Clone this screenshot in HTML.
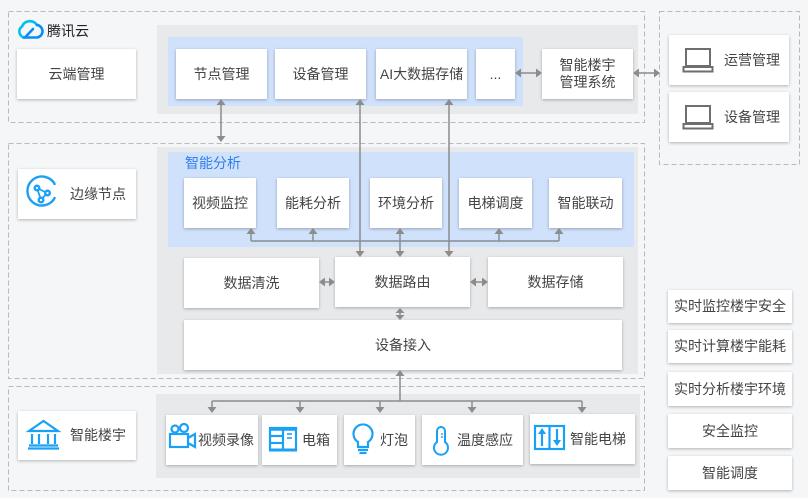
<!DOCTYPE html>
<html><head><meta charset="utf-8"><style>
*{margin:0;padding:0;box-sizing:border-box}
body{width:808px;height:498px;background:#f5f6f8;position:relative;overflow:hidden;font-family:"Liberation Sans","Noto Sans CJK SC",sans-serif;color:#444}
.p{position:absolute}
.g{position:absolute;background:#e8e9eb}
.bl{position:absolute;background:#cfe1fb}
.b{position:absolute;background:#fff;box-shadow:0 1px 3px rgba(0,0,0,.28);display:flex;align-items:center;justify-content:center;font-size:14px;color:#444;line-height:17px;text-align:center}
.t{position:absolute;font-size:14px;color:#444;white-space:nowrap;line-height:20px}
svg{position:absolute;left:0;top:0}
</style></head><body>
<svg width="808" height="498" style="z-index:0">
<g fill="none" stroke="#b9b9b9" stroke-width="1" stroke-dasharray="5,3">
<rect x="8.5" y="11.5" width="636" height="111"/>
<rect x="659.5" y="11.5" width="140" height="153"/>
<rect x="8.5" y="143.5" width="636" height="235"/>
<rect x="8.5" y="386.5" width="636" height="104"/>
</g>
</svg>
<div class="g" style="left:157px;top:25px;width:481px;height:89px"></div>
<div class="bl" style="left:168px;top:37px;width:355px;height:69px"></div>
<div class="g" style="left:157px;top:147px;width:481px;height:227px"></div>
<div class="bl" style="left:168px;top:152px;width:466px;height:95px"></div>
<div class="g" style="left:156px;top:394px;width:484px;height:84px"></div>

<div class="t" style="left:47px;top:21px;color:#222">腾讯云</div>
<div class="t" style="left:185px;top:153px;color:#2f80ed">智能分析</div>

<div class="b" style="left:17px;top:49px;width:119px;height:50px">云端管理</div>
<div class="b" style="left:176px;top:49px;width:91px;height:50px">节点管理</div>
<div class="b" style="left:275px;top:49px;width:91px;height:50px">设备管理</div>
<div class="b" style="left:376px;top:49px;width:91px;height:50px">AI大数据存储</div>
<div class="b" style="left:476px;top:49px;width:39px;height:50px">...</div>
<div class="b" style="left:542px;top:49px;width:91px;height:50px">智能楼宇<br>管理系统</div>

<div class="b" style="left:669px;top:35px;width:120px;height:50px;justify-content:flex-start;padding-left:55px">运营管理</div>
<div class="b" style="left:669px;top:92px;width:120px;height:50px;justify-content:flex-start;padding-left:55px">设备管理</div>

<div class="b" style="left:18px;top:169px;width:118px;height:50px;justify-content:flex-start;padding-left:52px">边缘节点</div>
<div class="b" style="left:184px;top:178px;width:72px;height:50px">视频监控</div>
<div class="b" style="left:277px;top:178px;width:72px;height:50px">能耗分析</div>
<div class="b" style="left:370px;top:178px;width:72px;height:50px">环境分析</div>
<div class="b" style="left:459px;top:178px;width:73px;height:50px">电梯调度</div>
<div class="b" style="left:549px;top:178px;width:73px;height:50px">智能联动</div>

<div class="b" style="left:184px;top:258px;width:135px;height:50px">数据清洗</div>
<div class="b" style="left:335px;top:257px;width:135px;height:50px">数据路由</div>
<div class="b" style="left:488px;top:257px;width:135px;height:50px">数据存储</div>
<div class="b" style="left:184px;top:320px;width:438px;height:50px">设备接入</div>

<div class="b" style="left:18px;top:411px;width:118px;height:49px;justify-content:flex-start;padding-left:52px">智能楼宇</div>
<div class="b" style="left:166px;top:415px;width:92px;height:50px;justify-content:flex-start;padding-left:32px">视频录像</div>
<div class="b" style="left:262px;top:415px;width:75px;height:50px;justify-content:flex-start;padding-left:40px">电箱</div>
<div class="b" style="left:344px;top:415px;width:71px;height:50px;justify-content:flex-start;padding-left:36px">灯泡</div>
<div class="b" style="left:422px;top:415px;width:101px;height:50px;justify-content:flex-start;padding-left:35px">温度感应</div>
<div class="b" style="left:530px;top:414px;width:105px;height:50px;justify-content:flex-start;padding-left:40px">智能电梯</div>

<div class="b" style="left:668px;top:290px;width:124px;height:33px">实时监控楼宇安全</div>
<div class="b" style="left:668px;top:330px;width:124px;height:33px">实时计算楼宇能耗</div>
<div class="b" style="left:668px;top:372px;width:124px;height:34px">实时分析楼宇环境</div>
<div class="b" style="left:668px;top:414px;width:124px;height:34px">安全监控</div>
<div class="b" style="left:668px;top:456px;width:124px;height:34px">智能调度</div>

<svg width="808" height="498" style="z-index:5">
<!-- connectors -->
<g stroke="#8c8c8c" stroke-width="1.5" fill="none">
<line x1="221" y1="103" x2="221" y2="137"/>
<line x1="360" y1="103" x2="360" y2="252"/>
<line x1="449" y1="103" x2="449" y2="252"/>
<line x1="519" y1="73" x2="538" y2="73"/>
<line x1="637" y1="73" x2="656" y2="73"/>
<line x1="251" y1="241" x2="559" y2="241"/>
<line x1="251" y1="232" x2="251" y2="241"/>
<line x1="313" y1="232" x2="313" y2="241"/>
<line x1="400" y1="232" x2="400" y2="252"/>
<line x1="499" y1="232" x2="499" y2="241"/>
<line x1="559" y1="232" x2="559" y2="241"/>
<line x1="323" y1="282" x2="331" y2="282"/>
<line x1="474" y1="282" x2="484" y2="282"/>
<line x1="400" y1="311" x2="400" y2="316"/>
<line x1="400" y1="374" x2="400" y2="401"/>
<line x1="212" y1="401" x2="582" y2="401"/>
<line x1="212" y1="401" x2="212" y2="408"/>
<line x1="300" y1="401" x2="300" y2="408"/>
<line x1="380" y1="401" x2="380" y2="408"/>
<line x1="472" y1="401" x2="472" y2="408"/>
<line x1="582" y1="401" x2="582" y2="408"/>
</g>
<g fill="#8c8c8c">
<!-- up heads -->
<polygon points="216.5,105 225.5,105 221,99"/>
<polygon points="355.5,105 364.5,105 360,99"/>
<polygon points="444.5,105 453.5,105 449,99"/>
<polygon points="246.5,234 255.5,234 251,228"/>
<polygon points="308.5,234 317.5,234 313,228"/>
<polygon points="395.5,234 404.5,234 400,228"/>
<polygon points="494.5,234 503.5,234 499,228"/>
<polygon points="554.5,234 563.5,234 559,228"/>
<polygon points="395.5,313 404.5,313 400,308"/>
<polygon points="395.5,376 404.5,376 400,370"/>
<!-- down heads -->
<polygon points="216.5,136 225.5,136 221,142"/>
<polygon points="355.5,251 364.5,251 360,257"/>
<polygon points="444.5,251 453.5,251 449,257"/>
<polygon points="395.5,251 404.5,251 400,257"/>
<polygon points="395.5,315 404.5,315 400,320"/>
<polygon points="207.5,407 216.5,407 212,413"/>
<polygon points="295.5,407 304.5,407 300,413"/>
<polygon points="375.5,407 384.5,407 380,413"/>
<polygon points="467.5,407 476.5,407 472,413"/>
<polygon points="577.5,407 586.5,407 582,413"/>
<!-- left/right heads -->
<polygon points="521,68.5 521,77.5 515,73"/>
<polygon points="536,68.5 536,77.5 542,73"/>
<polygon points="639,68.5 639,77.5 633,73"/>
<polygon points="654,68.5 654,77.5 660,73"/>
<polygon points="325,277.5 325,286.5 319,282"/>
<polygon points="329,277.5 329,286.5 335,282"/>
<polygon points="476,277.5 476,286.5 470,282"/>
<polygon points="482,277.5 482,286.5 488,282"/>
</g>

<!-- tencent cloud logo -->
<g fill="none" stroke-width="2.6" stroke-linecap="round">
<path d="M25,37.5 A6,6 0 0 1 22,26.5 A8.5,8.5 0 0 1 37,25" stroke="#00c0f0"/>
<path d="M37,25 A6.3,6.3 0 0 1 37,37.5 L25,37.5 L33,29" stroke="#0a8df5"/>
</g>

<!-- laptops -->
<g fill="none" stroke="#6e6e6e" stroke-width="2">
<rect x="686" y="49" width="24" height="17"/>
<rect x="683.5" y="67" width="29" height="4.5"/>
<rect x="686" y="106" width="24" height="17"/>
<rect x="683.5" y="124" width="29" height="4.5"/>
</g>

<!-- edge node icon -->
<g fill="none" stroke="#1aa0f5" stroke-width="2.4">
<path d="M55.1,197.1 A14.5,14.5 0 1 1 55.1,184.9"/>
<path d="M37,188 L47,193 L41,200 Z" stroke-width="1.8"/>
<circle cx="37" cy="188" r="2.3" fill="#fff"/>
<circle cx="47.5" cy="193" r="2.3" fill="#fff"/>
<circle cx="41" cy="200" r="2.3" fill="#fff"/>
</g>

<!-- building icon -->
<g fill="none" stroke="#1aa0f5" stroke-width="2.2">
<path d="M29,431 L43.5,421 L58,431 Z"/>
<line x1="32" y1="434" x2="32" y2="444"/>
<line x1="39" y1="434" x2="39" y2="444"/>
<line x1="48" y1="434" x2="48" y2="444"/>
<line x1="55" y1="434" x2="55" y2="444"/>
<line x1="29" y1="445.5" x2="58" y2="445.5"/>
<line x1="28" y1="448.5" x2="59" y2="448.5"/>
</g>

<!-- camera -->
<g fill="none" stroke="#1aa0f5" stroke-width="2.2">
<circle cx="175" cy="429" r="3.5"/>
<circle cx="184" cy="428" r="4"/>
<rect x="170" y="434" width="18" height="13"/>
<path d="M188,438 L195,434 L195,447 L188,443"/>
</g>

<!-- cabinet -->
<g fill="none" stroke="#1aa0f5" stroke-width="2.2">
<rect x="270" y="428" width="26" height="22"/>
<line x1="269" y1="429" x2="297" y2="429" stroke-width="3.5"/>
<line x1="283" y1="429" x2="283" y2="450"/>
<line x1="270" y1="436" x2="283" y2="436"/>
<line x1="270" y1="443" x2="283" y2="443"/>
<line x1="287" y1="434" x2="292" y2="434" stroke-width="1.6"/>
<line x1="287" y1="438" x2="292" y2="438" stroke-width="1.6"/>
<line x1="269" y1="450" x2="297" y2="450" stroke-width="3"/>
</g>

<!-- bulb -->
<g fill="none" stroke="#1aa0f5" stroke-width="2.2">
<path d="M358,447 L358,442 A9.5,9.5 0 1 1 368,442 L368,447 Z"/>
<line x1="358" y1="450" x2="368" y2="450"/>
<line x1="359.5" y1="453" x2="366.5" y2="453"/>
</g>

<!-- thermometer -->
<g fill="none" stroke="#1aa0f5" stroke-width="2">
<path d="M437,442 L437,431 A4,4 0 0 1 445,431 L445,442 A7,7 0 1 1 437,442 Z"/>
<line x1="441" y1="434" x2="443" y2="434" stroke-width="1.4"/>
<line x1="441" y1="437" x2="443" y2="437" stroke-width="1.4"/>
</g>

<!-- elevator -->
<g stroke="#1aa0f5" stroke-width="2.2" fill="none">
<rect x="535" y="426" width="29" height="23"/>
<line x1="549.5" y1="426" x2="549.5" y2="449"/>
<line x1="542" y1="431" x2="542" y2="446"/>
<line x1="557" y1="429" x2="557" y2="442"/>
</g>
<g fill="#1aa0f5">
<polygon points="538,434 546,434 542,428"/>
<polygon points="553,440 561,440 557,446"/>
</g>
</svg>
</body></html>
